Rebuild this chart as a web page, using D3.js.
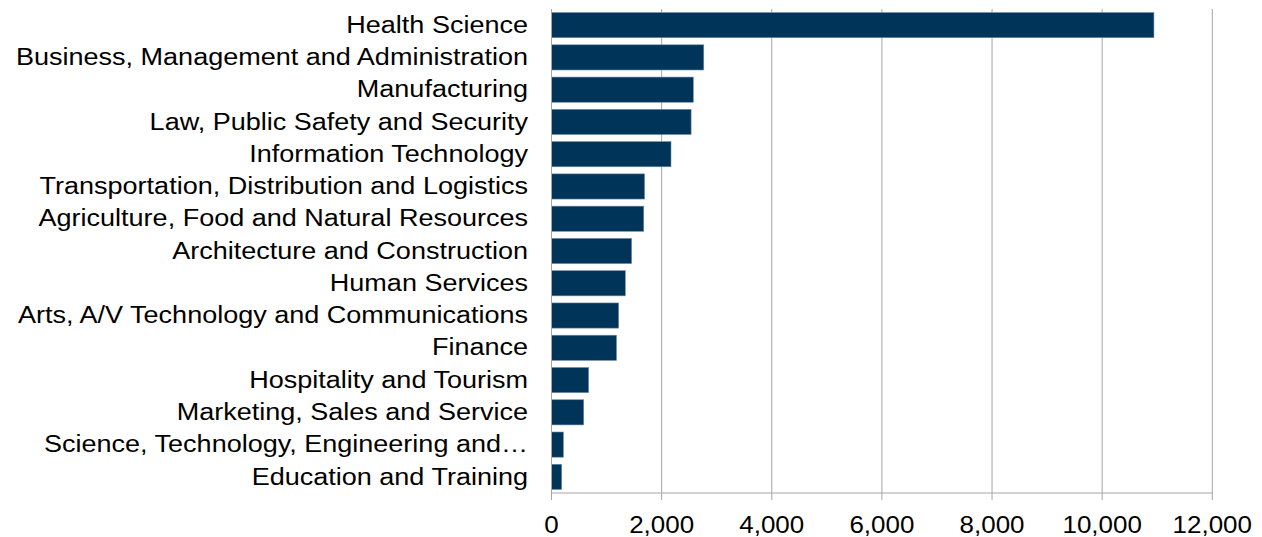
<!DOCTYPE html>
<html>
<head>
<meta charset="utf-8">
<script src="https://cdn.jsdelivr.net/npm/d3@7"></script>
<style>
  body { margin: 0; background: #fff; }
  svg text { font-family: "Liberation Sans", Arial, sans-serif; fill: #000; }
</style>
</head>
<body>
<div id="chart"></div>
<script>
var categories = [
    "Health Science",
    "Business, Management and Administration",
    "Manufacturing",
    "Law, Public Safety and Security",
    "Information Technology",
    "Transportation, Distribution and Logistics",
    "Agriculture, Food and Natural Resources",
    "Architecture and Construction",
    "Human Services",
    "Arts, A/V Technology and Communications",
    "Finance",
    "Hospitality and Tourism",
    "Marketing, Sales and Service",
    "Science, Technology, Engineering and\u2026",
    "Education and Training"
];
var values = [10940, 2765, 2575, 2535, 2170, 1690, 1675, 1455, 1340, 1220, 1180, 675, 585, 215, 185];
var xTicks = [0, 2000, 4000, 6000, 8000, 10000, 12000];

var width = 1262, height = 537;
var margin = {top: 9, right: 50, bottom: 44, left: 551.5};

var svg = d3.select("#chart").append("svg")
    .attr("width", width).attr("height", height);

var x = d3.scaleLinear().domain([0, 12000]).range([margin.left, 1212.3]);
var y = d3.scaleBand().domain(categories)
    .range([margin.top, height - margin.bottom])
    .paddingInner(0.22).paddingOuter(0.11);

var fmt = d3.format(",");
var axisY = height - margin.bottom;

// vertical gridlines
svg.append("g").selectAll("line")
    .data(xTicks.slice(1))
    .enter().append("line")
    .attr("x1", d => x(d)).attr("x2", d => x(d))
    .attr("y1", margin.top).attr("y2", axisY + 7)
    .attr("stroke", "#a6a6a6").attr("stroke-width", 1);

// bars
svg.append("g").selectAll("rect")
    .data(values)
    .enter().append("rect")
    .attr("x", x(0))
    .attr("y", (d, i) => y(categories[i]))
    .attr("width", d => x(d) - x(0))
    .attr("height", y.bandwidth())
    .attr("fill", "#003459")
    .attr("stroke", "#6f8ba6")
    .attr("stroke-width", 0.6);

// left axis line
svg.append("line")
    .attr("x1", x(0)).attr("x2", x(0))
    .attr("y1", margin.top).attr("y2", axisY + 7)
    .attr("stroke", "#a6a6a6");

// bottom axis line
svg.append("line")
    .attr("x1", x(0)).attr("x2", x(12000))
    .attr("y1", axisY).attr("y2", axisY)
    .attr("stroke", "#a6a6a6");

// tick labels (text in the reference is drawn a bit wider than plain Arial)
svg.append("g").selectAll("text")
    .data(xTicks)
    .enter().append("text")
    .attr("transform", d => "translate(" + x(d) + "," + (axisY + 40) + ") scale(1.06,1)")
    .attr("text-anchor", "middle")
    .style("font-size", "24.5px")
    .text(d => fmt(d));

// category labels
svg.append("g").selectAll("text")
    .data(categories)
    .enter().append("text")
    .attr("transform", d => "translate(528," + (y(d) + y.bandwidth() / 2 - 0.5) + ") scale(1.16,1)")
    .attr("dy", "0.35em")
    .attr("text-anchor", "end")
    .style("font-size", "23.3px")
    .text(d => d);
</script>
</body>
</html>
